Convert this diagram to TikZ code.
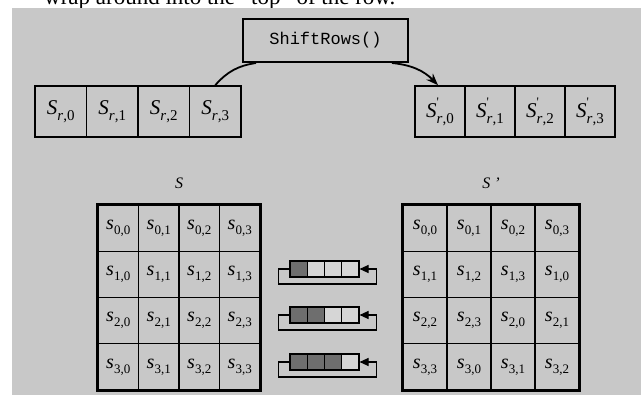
\documentclass[tikz,border=0pt]{standalone}
\usepackage{fontspec}
\setmainfont{Liberation Serif}
\newfontfamily\courfont{Liberation Mono}
\usetikzlibrary{arrows.meta}
\definecolor{bgc}{HTML}{C8C8C8}
\definecolor{darkc}{HTML}{6E6E6E}
\definecolor{lightc}{HTML}{D6D6D6}
\newcommand\msub[2]{{\fontsize{20}{20}\selectfont\itshape s}\raisebox{-5pt}{\fontsize{13}{13}\selectfont #1,#2}}
\newcommand\rsub[1]{{\fontsize{21}{21}\selectfont\itshape S}\raisebox{-6pt}{\fontsize{15}{15}\selectfont\itshape r\upshape,#1}}
\newcommand\rpsub[1]{{\fontsize{21}{21}\selectfont\itshape S}\rlap{\raisebox{11pt}{\fontsize{13}{13}\selectfont\textquotesingle}}\raisebox{-6pt}{\fontsize{15}{15}\selectfont\itshape r\upshape,#1}}
\tikzset{
  mcell/.style={draw, line width=1.3pt, inner sep=0pt, minimum height=46.25pt},
  rowcell/.style={draw, line width=1.6pt, inner sep=0pt, minimum height=51pt},
  shcell/.style={draw, line width=1.1pt, inner sep=0pt, minimum width=17.25pt, minimum height=16pt},
  loopl/.style={line width=1.1pt, -{Triangle[length=9pt,width=8pt]}},
  arcl/.style={line width=1.8pt},
}
\begin{document}
\begin{tikzpicture}[x=1pt,y=-1pt]
\useasboundingbox (0,0) rectangle (641,395);
\node[anchor=base west, inner sep=0pt] (toptext) at (44,5) {\fontsize{23}{23}\selectfont wrap around into the “top” of the row.};
\fill[bgc] (12,8) rectangle (641,395);
% ShiftRows box
\node[draw, line width=2pt, minimum width=165pt, minimum height=43pt, inner sep=0pt] (box) at (325.5,40.5) {\courfont\fontsize{17}{17}\selectfont ShiftRows()};
% top rows
\foreach \j in {0,...,3}{
  \node[rowcell, minimum width=51.5pt] (T\j) at ({35+51.5*(\j+0.5)},111.5) {\rsub{\j}};
  \node[rowcell, minimum width=50pt] (P\j) at ({415+50*(\j+0.5)},111.5) {\rpsub{\j}};
}
\draw[arcl] (T3.north) to[bend left=20] ([xshift=14pt]box.south west);
\draw[arcl, -{Stealth[length=12pt,width=9pt]}] ([xshift=-17pt]box.south east) to[bend left=20] ([xshift=-2pt]P0.north);
% labels
\node (lS) at (179,183) {\fontsize{16}{16}\selectfont\itshape S};
\node (rS) at (491,183) {\fontsize{16}{16}\selectfont\itshape S ’};
% matrices
\foreach \i in {0,...,3}{
  \foreach \j in {0,...,3}{
    \pgfmathtruncatemacro\k{mod(\i+\j,4)}
    \node[mcell, minimum width=40.5pt] (L\i\j) at ({98+40.5*(\j+0.5)},{205+46.25*(\i+0.5)}) {\msub{\i}{\j}};
    \node[mcell, minimum width=44pt] (R\i\j) at ({403+44*(\j+0.5)},{205+46.25*(\i+0.5)}) {\msub{\i}{\k}};
  }
}
\draw[line width=2.5pt] (L00.north west) rectangle (L33.south east);
\draw[line width=2.5pt] (R00.north west) rectangle (R33.south east);
% shift diagrams
\foreach \r/\m in {1/269,2/315,3/362}{
  \foreach \k in {0,...,3}{
    \pgfmathsetmacro\fc{\k<\r ? "darkc" : "lightc"}
    \node[shcell, fill=\fc] (S\r\k) at ({290+17.25*(\k+0.5)},\m) {};
  }
  \draw[loopl] (S\r0.west) -- ++(-11,0) -- ++(0,15) -- ++(98,0) -- ++(0,-15) -- (S\r3.east);
}
\end{tikzpicture}
\end{document}
